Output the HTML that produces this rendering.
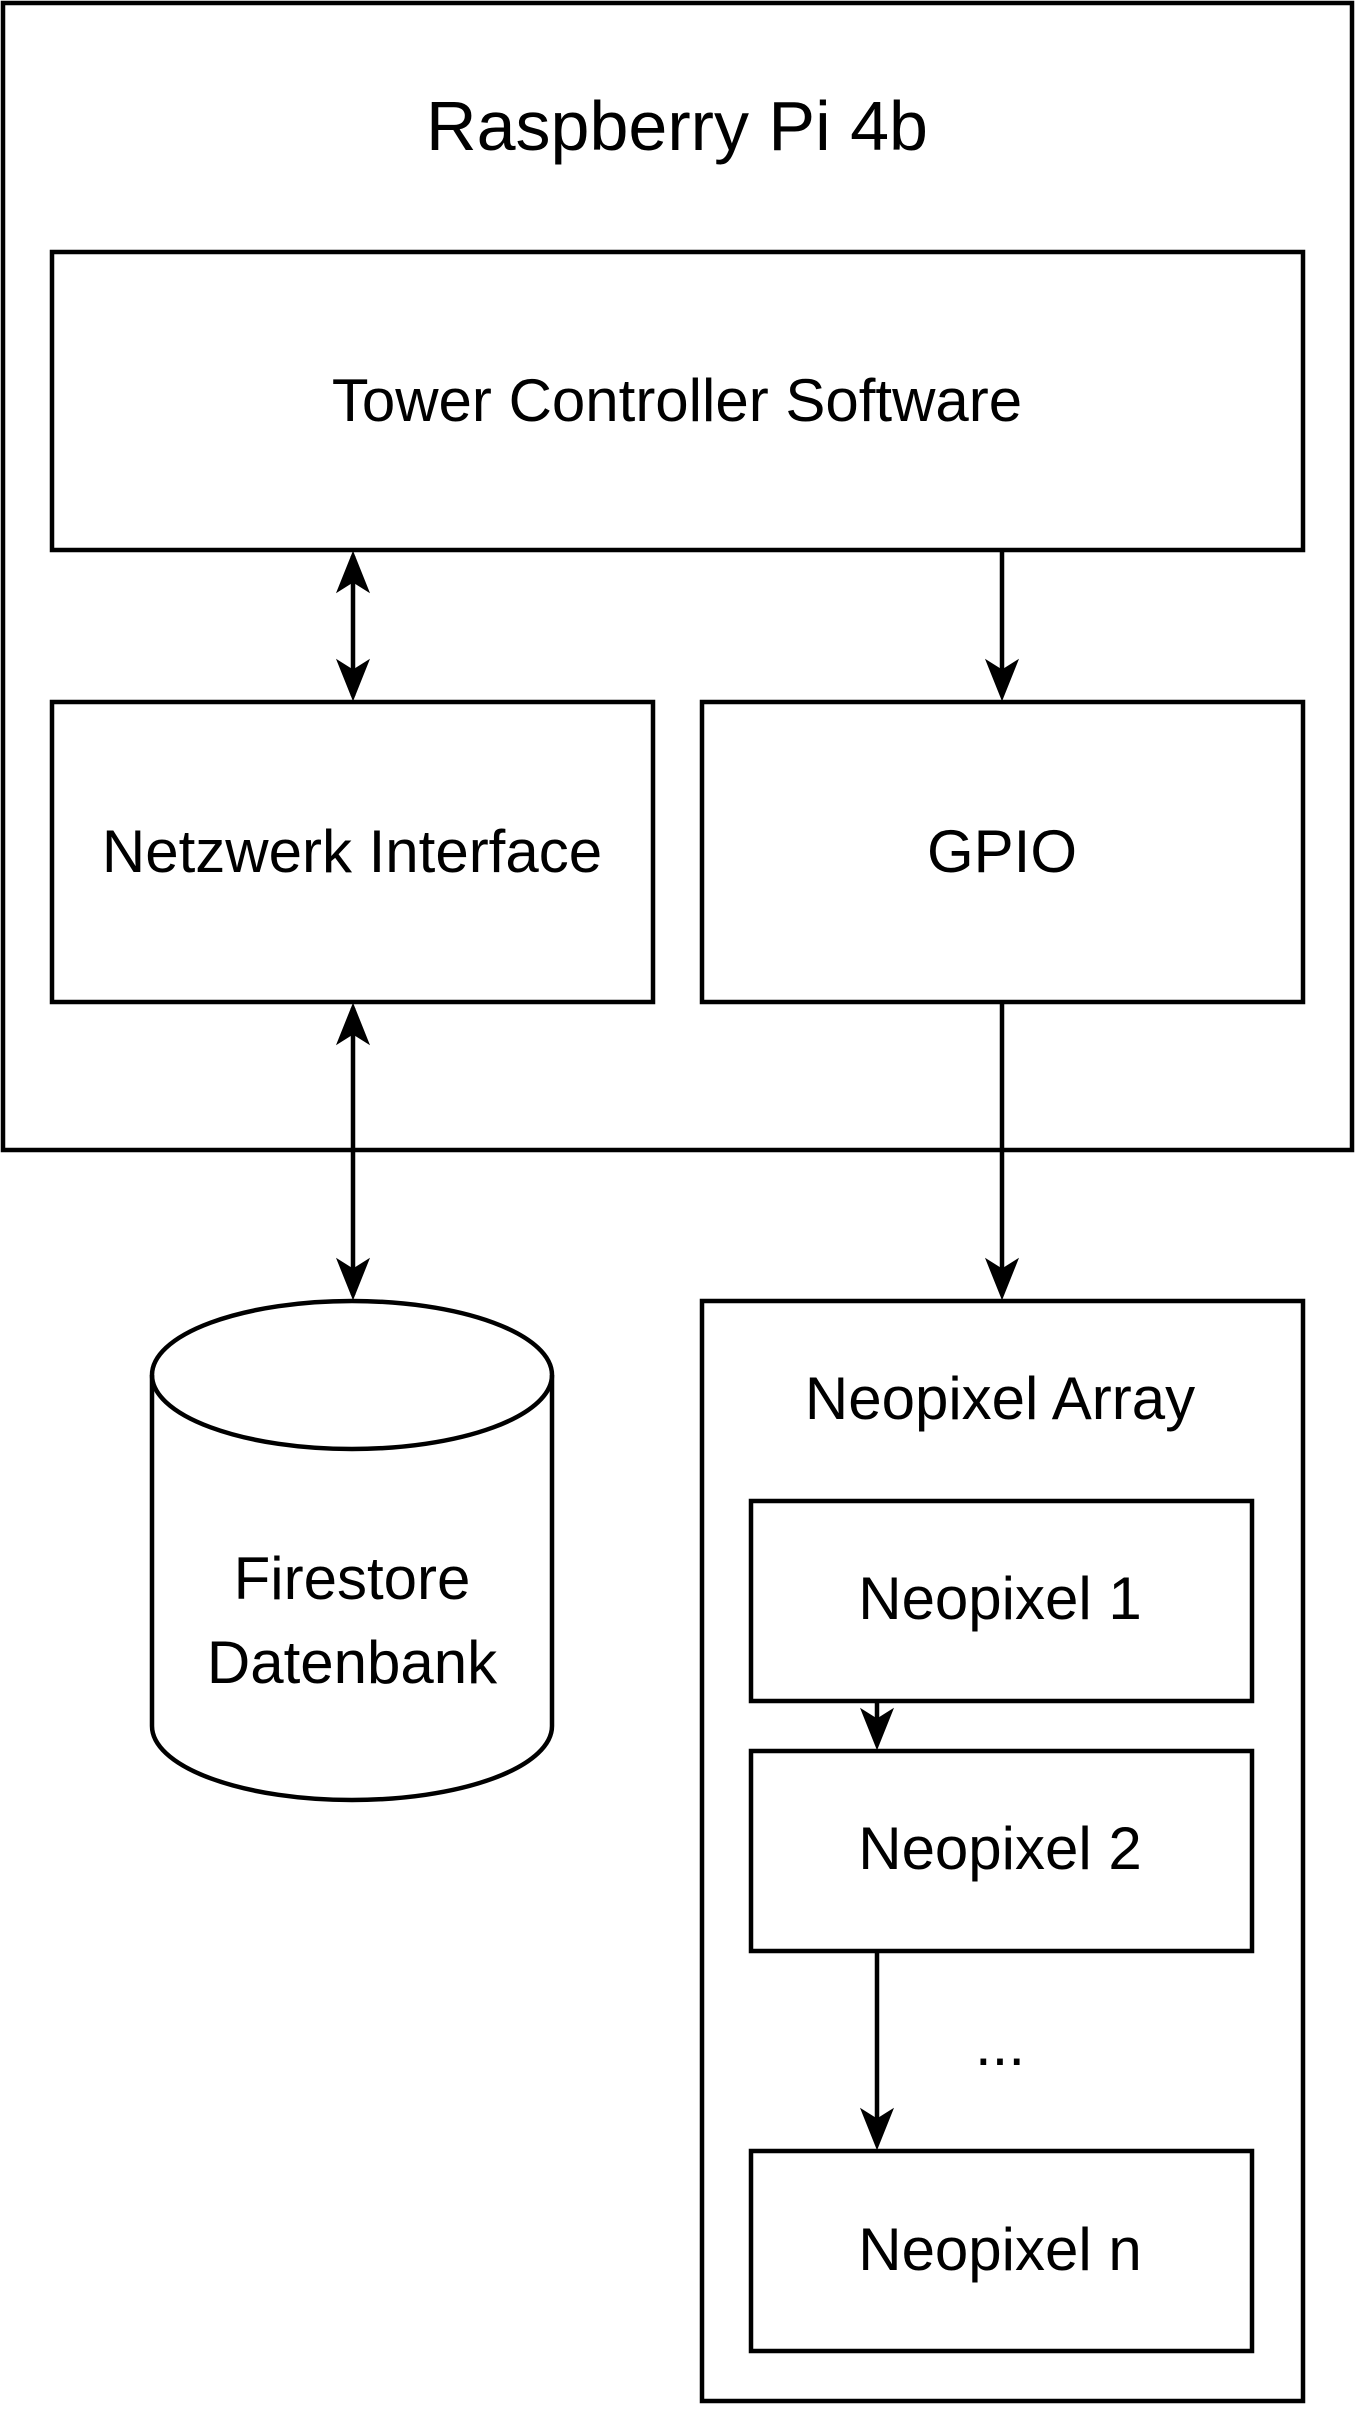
<!DOCTYPE html>
<html><head><meta charset="utf-8"><style>html,body{margin:0;padding:0;background:#fff}svg{display:block}</style></head>
<body>
<svg width="1355" height="2410" viewBox="0 0 1355 2410" xmlns="http://www.w3.org/2000/svg" font-family="Liberation Sans, Arial, sans-serif" fill="none" stroke="#000" stroke-width="4.5">
<rect x="3" y="3" width="1349" height="1147"/>
<rect x="52" y="252" width="1251" height="298"/>
<rect x="52" y="702" width="601" height="300"/>
<rect x="702" y="702" width="601" height="300"/>
<rect x="702" y="1301" width="601" height="1100"/>
<rect x="751" y="1501" width="501" height="200"/>
<rect x="751" y="1751" width="501" height="200"/>
<rect x="751" y="2151" width="501" height="200"/>
<path d="M152,1375 A200,74 0 0 1 552,1375 L552,1726 A200,74 0 0 1 152,1726 Z" fill="#fff"/>
<path d="M152,1375 A200,74 0 0 0 552,1375"/>
<path d="M353,556 L353,696"/>
<path d="M353,552 l-16,40 l16,-10 l16,10 Z M353,700 l-16,-40 l16,10 l16,-10 Z" fill="#000" stroke-width="1"/>
<path d="M353,1008 L353,1295"/>
<path d="M353,1004 l-16,40 l16,-10 l16,10 Z M353,1299 l-16,-40 l16,10 l16,-10 Z" fill="#000" stroke-width="1"/>
<path d="M1002,550 L1002,690"/>
<path d="M1002,700 l-16,-40 l16,10 l16,-10 Z" fill="#000" stroke-width="1"/>
<path d="M1002,1002 L1002,1290"/>
<path d="M1002,1299 l-16,-40 l16,10 l16,-10 Z" fill="#000" stroke-width="1"/>
<path d="M877,1701 L877,1740"/>
<path d="M877,1749 l-16,-40 l16,10 l16,-10 Z" fill="#000" stroke-width="1"/>
<path d="M877,1951 L877,2140"/>
<path d="M877,2149 l-16,-40 l16,10 l16,-10 Z" fill="#000" stroke-width="1"/>
<g fill="#000" stroke="none" text-anchor="middle" font-size="60">
<text x="677" y="150" font-size="70">Raspberry Pi 4b</text>
<text x="677" y="421">Tower Controller Software</text>
<text x="352" y="872">Netzwerk Interface</text>
<text x="1002" y="872">GPIO</text>
<text x="352" y="1599">Firestore</text>
<text x="352" y="1683">Datenbank</text>
<text x="1000" y="1419">Neopixel Array</text>
<text x="1000" y="1619">Neopixel 1</text>
<text x="1000" y="1869">Neopixel 2</text>
<text x="1000" y="2065">...</text>
<text x="1000" y="2270">Neopixel n</text>
</g>
</svg>
</body></html>
